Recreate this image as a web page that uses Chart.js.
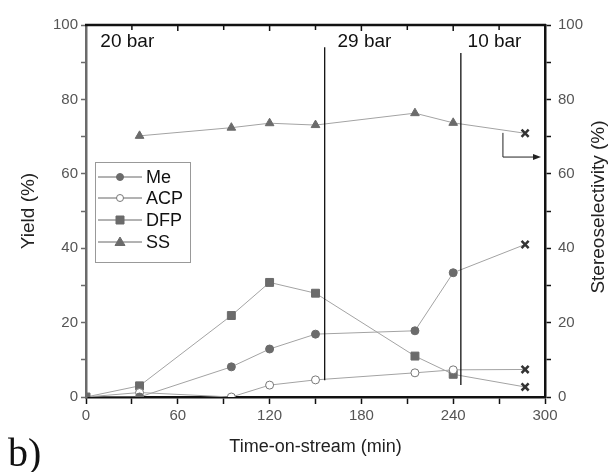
<!DOCTYPE html>
<html>
<head>
<meta charset="utf-8">
<script src="https://cdn.jsdelivr.net/npm/chart.js@4.4.1/dist/chart.umd.min.js"></script>
<style>
    html, body { margin: 0; padding: 0; background: #fff; }
    #wrap { width: 609px; height: 472px; position: relative; }
</style>
</head>
<body>
<div id="wrap"><canvas id="chart"></canvas></div>
<script>
// Data
const times = [0, 35, 95, 120, 150, 215, 240, 287];
const meYield = [0, 0, 8.1, 12.9, 16.9, 17.8, 33.4, 41.0];
const acpYield = [0, 1.2, 0, 3.2, 4.6, 6.5, 7.3, 7.4];
const dfpYield = [0, 3.0, 21.9, 30.8, 27.9, 11.0, 6.1, 2.7];
const ssTimes = [35, 95, 120, 150, 215, 240, 287];
const ssValues = [70.2, 72.4, 73.6, 73.1, 76.3, 73.7, 70.9];

// Pressure switches and labels
const switchTimes = [156, 245];
const switchSpans = [[4.5, 94], [3.2, 92.5]];
const pressureLabels = ['20 bar', '29 bar', '10 bar'];
const pressureLabelTimes = [27, 182, 267];

const markerColor = '#6b6b6b';
const lineColor = '#a3a3a3';

function toPoints(xs, ys) {
    return xs.map((x, i) => ({ x: x, y: ys[i] }));
}

// last point of each series is shown as an X
function lastAsCross(n, style) {
    return Array.from({ length: n }, (_, i) => i === n - 1 ? 'crossRot' : style);
}

function makeSeries(label, xs, ys, style, radius, fill, yAxisID) {
    const n = xs.length;
    return {
        label: label,
        data: toPoints(xs, ys),
        yAxisID: yAxisID,
        borderColor: lineColor,
        borderWidth: 1,
        pointStyle: lastAsCross(n, style),
        pointRadius: Array.from({ length: n }, (_, i) => i === n - 1 ? 5 : radius),
        pointBackgroundColor: fill,
        pointBorderColor: Array.from({ length: n }, (_, i) => i === n - 1 ? '#333' : (fill === '#fff' ? '#777' : markerColor)),
        pointBorderWidth: Array.from({ length: n }, (_, i) => i === n - 1 ? 2.5 : 1),
        tension: 0
    };
}

const datasets = [
    makeSeries('Me', times, meYield, 'circle', 4, markerColor, 'y'),
    makeSeries('ACP', times, acpYield, 'circle', 4, '#fff', 'y'),
    makeSeries('DFP', times, dfpYield, 'rect', 5.6, markerColor, 'y'),
    makeSeries('SS', ssTimes, ssValues, 'triangle', 5, markerColor, 'y2')
];

const extrasPlugin = {
    id: 'extras',
    afterDraw(chart) {
        const ctx = chart.ctx;
        const x = chart.scales.x;
        const y = chart.scales.y;
        const area = chart.chartArea;
        ctx.save();

        // top axis with inward ticks
        ctx.strokeStyle = '#111';
        ctx.lineWidth = 2.5;
        ctx.beginPath();
        ctx.moveTo(area.left - 1, area.top);
        ctx.lineTo(area.right + 1, area.top);
        ctx.stroke();
        ctx.lineWidth = 1.5;
        for (let t = 30; t < 300; t += 30) {
            const px = x.getPixelForValue(t);
            ctx.beginPath();
            ctx.moveTo(px, area.top);
            ctx.lineTo(px, area.top + (t % 60 === 0 ? 6 : 5));
            ctx.stroke();
        }

        // pressure switch lines
        ctx.strokeStyle = '#111';
        ctx.lineWidth = 1.3;
        switchTimes.forEach((t, i) => {
            const px = x.getPixelForValue(t);
            ctx.beginPath();
            ctx.moveTo(px, y.getPixelForValue(switchSpans[i][1]));
            ctx.lineTo(px, y.getPixelForValue(switchSpans[i][0]));
            ctx.stroke();
        });

        // pressure labels
        ctx.fillStyle = '#111';
        ctx.font = '19px "Liberation Sans", Arial, sans-serif';
        ctx.textAlign = 'center';
        ctx.textBaseline = 'middle';
        pressureLabels.forEach((lab, i) => {
            ctx.fillText(lab, x.getPixelForValue(pressureLabelTimes[i]), y.getPixelForValue(95.4));
        });

        // arrow pointing to right axis
        const ax = x.getPixelForValue(272.5);
        const ay0 = y.getPixelForValue(71);
        const ay1 = y.getPixelForValue(64.5);
        const ax1 = area.right - 4;
        ctx.strokeStyle = '#222';
        ctx.lineWidth = 1;
        ctx.beginPath();
        ctx.moveTo(ax, ay0);
        ctx.lineTo(ax, ay1);
        ctx.lineTo(ax1 - 6, ay1);
        ctx.stroke();
        ctx.fillStyle = '#222';
        ctx.beginPath();
        ctx.moveTo(ax1, ay1);
        ctx.lineTo(ax1 - 8, ay1 - 3);
        ctx.lineTo(ax1 - 8, ay1 + 3);
        ctx.closePath();
        ctx.fill();

        // legend box
        ctx.strokeStyle = '#999';
        ctx.lineWidth = 1;
        ctx.strokeRect(95.5, 162.5, 95, 100);
        const rowsY = [177, 198, 220, 242];
        ctx.font = '18px "Liberation Sans", Arial, sans-serif';
        ctx.textAlign = 'left';
        chart.data.datasets.forEach((ds, i) => {
            const ly = rowsY[i];
            ctx.strokeStyle = '#666';
            ctx.lineWidth = 1;
            ctx.beginPath();
            ctx.moveTo(98, ly);
            ctx.lineTo(142, ly);
            ctx.stroke();
            const style = ds.pointStyle[0];
            ctx.fillStyle = ds.pointBackgroundColor;
            ctx.strokeStyle = ds.pointBorderColor[0];
            ctx.beginPath();
            if (style === 'circle') {
                ctx.arc(120, ly, 3.5, 0, Math.PI * 2);
            } else if (style === 'rect') {
                ctx.rect(116, ly - 4, 8, 8);
            } else {
                ctx.moveTo(120, ly - 5);
                ctx.lineTo(125, ly + 3.5);
                ctx.lineTo(115, ly + 3.5);
                ctx.closePath();
            }
            ctx.fill();
            ctx.stroke();
            ctx.fillStyle = '#111';
            ctx.fillText(ds.label, 146, ly + 1);
        });

        // right axis title, reading bottom to top
        ctx.save();
        ctx.translate(599, 207);
        ctx.rotate(-Math.PI / 2);
        ctx.fillStyle = '#222';
        ctx.font = '19px "Liberation Sans", Arial, sans-serif';
        ctx.textAlign = 'center';
        ctx.textBaseline = 'middle';
        ctx.fillText('Stereoselectivity (%)', 0, 0);
        ctx.restore();

        // panel label
        ctx.fillStyle = '#111';
        ctx.font = '40px "Liberation Serif", "Times New Roman", serif';
        ctx.textAlign = 'left';
        ctx.textBaseline = 'alphabetic';
        ctx.fillText('b)', 8, 466);

        ctx.restore();
    }
};

document.addEventListener('DOMContentLoaded', () => {
    Chart.defaults.font.family = '"Liberation Sans", Arial, sans-serif';
    Chart.defaults.color = '#555';

    const ctx = document.getElementById('chart').getContext('2d');
    new Chart(ctx, {
        type: 'line',
        data: { datasets: datasets },
        options: {
            responsive: true,
            maintainAspectRatio: false,
            animation: false,
            layout: { padding: { top: 25, left: 0, right: 0, bottom: 0 } },
            plugins: {
                legend: { display: false },
                tooltip: { enabled: false }
            },
            scales: {
                x: {
                    type: 'linear',
                    min: 0,
                    max: 300,
                    afterFit: s => { s.height = 75; },
                    border: { color: '#111', width: 2.5 },
                    grid: { drawOnChartArea: false, tickLength: 7, tickColor: '#111', tickWidth: 1.5 },
                    ticks: {
                        stepSize: 30,
                        padding: 3,
                        maxRotation: 0,
                        autoSkip: false,
                        font: { size: 15 },
                        callback: v => v % 60 === 0 ? v : ''
                    },
                    title: {
                        display: true,
                        text: 'Time-on-stream (min)',
                        color: '#222',
                        font: { size: 18 },
                        padding: { top: 0, bottom: 14 }
                    }
                },
                y: {
                    position: 'left',
                    min: 0,
                    max: 100,
                    afterFit: s => { s.width = 86; },
                    border: { color: '#6b6b6b', width: 2.5 },
                    grid: { drawOnChartArea: false, tickLength: 5, tickColor: '#6b6b6b', tickWidth: 1.5 },
                    ticks: {
                        stepSize: 10,
                        padding: 3,
                        autoSkip: false,
                        font: { size: 15 },
                        callback: v => v % 20 === 0 ? v : ''
                    },
                    title: {
                        display: true,
                        text: 'Yield (%)',
                        color: '#222',
                        font: { size: 19 },
                        padding: { top: 17, bottom: 0 }
                    }
                },
                y2: {
                    position: 'right',
                    min: 0,
                    max: 100,
                    afterFit: s => { s.width = 64; },
                    border: { color: '#111', width: 2.5 },
                    grid: { drawOnChartArea: false, tickLength: 6, tickColor: '#111', tickWidth: 1.5 },
                    ticks: {
                        stepSize: 10,
                        padding: 7,
                        autoSkip: false,
                        font: { size: 15 },
                        callback: v => v % 20 === 0 ? v : ''
                    }
                }
            }
        },
        plugins: [extrasPlugin]
    });
});
</script>
</body>
</html>
